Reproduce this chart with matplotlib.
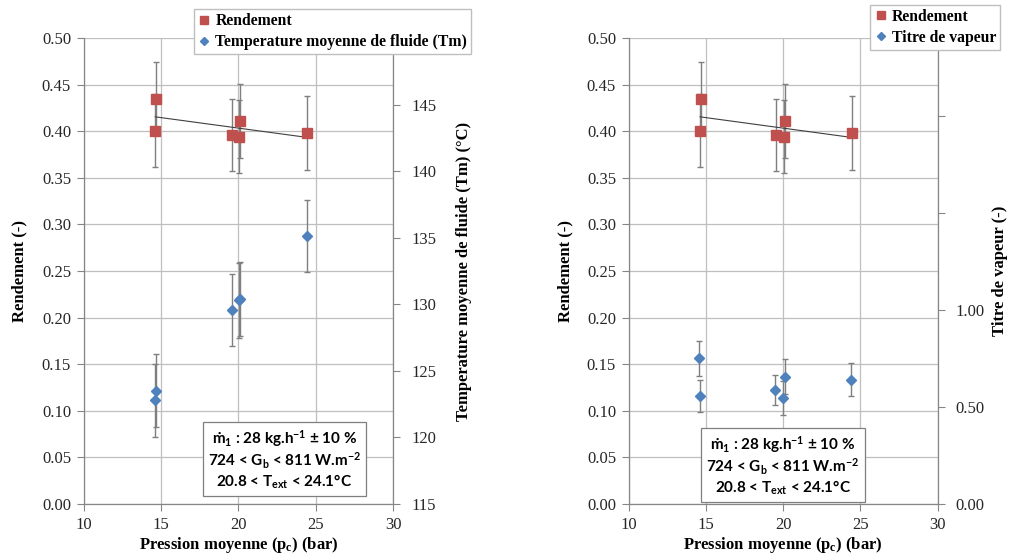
import numpy as np
import matplotlib
matplotlib.use("Agg")
import matplotlib.pyplot as plt
from matplotlib.lines import Line2D

plt.rcParams['font.family'] = ['Liberation Serif', 'DejaVu Serif']
plt.rcParams['mathtext.fontset'] = 'custom'
plt.rcParams['mathtext.rm'] = 'Liberation Serif:bold'
plt.rcParams['mathtext.bf'] = 'Liberation Serif:bold'
plt.rcParams['mathtext.sf'] = 'Lato:bold'
plt.rcParams['mathtext.it'] = 'Liberation Serif:bold'

# ---- data ----
pression = [14.68, 14.63, 19.56, 20.05, 20.10, 24.44]
rendement = [0.435, 0.4005, 0.396, 0.394, 0.411, 0.398]
rendement_err = [0.039, 0.039, 0.039, 0.039, 0.040, 0.040]

temperature = [123.5, 122.8, 129.6, 130.3, 130.4, 135.1]
temperature_err = [2.75, 2.75, 2.7, 2.8, 2.8, 2.7]

pression_v = [14.58, 14.63, 19.50, 20.03, 20.10, 24.40]
titre = [0.751, 0.557, 0.586, 0.545, 0.656, 0.639]
titre_err = [0.09, 0.083, 0.077, 0.088, 0.09, 0.085]

x_ticks = [10, 15, 20, 25, 30]
y_ticks = [0.0, 0.05, 0.10, 0.15, 0.20, 0.25, 0.30, 0.35, 0.40, 0.45, 0.50]
t_ticks = [115, 120, 125, 130, 135, 140, 145]
q_ticks = [0.0, 0.5, 1.0, 1.5, 2.0]
q_labels = ['0.00', '0.50', '1.00', '', '']

RED = '#C0504D'
BLUE = '#4F81BD'
GRID = '#BFBFBF'
AXC = '#868686'
ERRC = '#7F7F7F'
SERIF = 'Liberation Serif'

fig = plt.figure(figsize=(10.11, 5.56), dpi=100)

def setup_primary(ax):
    ax.set_xlim(10, 30)
    ax.set_ylim(0, 0.5)
    ax.set_xticks(x_ticks)
    ax.set_yticks(y_ticks)
    ax.set_yticklabels([f'{v:.2f}' for v in y_ticks])
    ax.grid(True, color=GRID, linewidth=0.9)
    ax.set_axisbelow(True)
    for s in ['top', 'right']:
        ax.spines[s].set_visible(False)
    for s in ['left', 'bottom']:
        ax.spines[s].set_color(AXC)
        ax.spines[s].set_linewidth(0.9)
    ax.tick_params(axis='both', direction='out', length=5, color=AXC,
                   labelsize=12, labelcolor='#262626', pad=4,
                   labelfontfamily=SERIF)
    ax.set_xlabel(r'Pression moyenne (p$_{c}$) (bar)', fontfamily=SERIF,
                  fontweight='bold', fontsize=12, labelpad=2)
    ax.set_ylabel('Rendement (-)', fontfamily=SERIF, fontweight='bold',
                  fontsize=12, labelpad=10)

def plot_rendement(ax):
    ax.errorbar(pression, rendement, yerr=rendement_err, fmt='none',
                ecolor=ERRC, elinewidth=1.0, capsize=2.5, capthick=1.0, zorder=3)
    coef = np.polyfit(pression, rendement, 1)
    xs = np.array([min(pression), max(pression)])
    ax.plot(xs, np.polyval(coef, xs), color='#404040', linewidth=0.8, zorder=4)
    ax.plot(pression, rendement, linestyle='none', marker='s', markersize=7,
            color=RED, markeredgecolor=RED, zorder=5)

def setup_secondary(ax2):
    for s in ['top', 'left', 'bottom']:
        ax2.spines[s].set_visible(False)
    ax2.spines['right'].set_color(AXC)
    ax2.spines['right'].set_linewidth(0.9)
    ax2.tick_params(axis='y', direction='out', length=5, color=AXC,
                    labelsize=12, labelcolor='#262626', pad=8,
                    labelfontfamily=SERIF)

def text_box(x, y):
    txt = ('ṁ$\\mathsf{_1}$ : 28 kg.h$\\mathsf{^{-1}}$ ± 10 %\n'
           '724 < G$\\mathsf{_b}$ < 811 W.m$\\mathsf{^{-2}}$\n'
           '20.8 < T$\\mathsf{_{ext}}$ < 24.1°C')
    fig.text(x, y, txt, ha='center', va='center', fontfamily='Lato',
             fontweight='bold', fontsize=11, linespacing=1.12,
             bbox=dict(boxstyle='square,pad=0.32', facecolor='white',
                       edgecolor='#7F7F7F', linewidth=0.9), zorder=10)

# ---- left chart ----
ax = fig.add_axes([0.0826, 0.0935, 0.3066, 0.8382])
setup_primary(ax)
ax2 = ax.twinx()
ax2.set_ylim(115, 150)
ax2.set_yticks(t_ticks)
ax2.set_yticklabels([str(v) for v in t_ticks])
setup_secondary(ax2)
ax2.set_ylabel('Temperature moyenne de fluide (Tm) (°C)', fontfamily=SERIF,
               fontweight='bold', fontsize=12, labelpad=14)
plot_rendement(ax)
ax2.errorbar(pression, temperature, yerr=temperature_err, fmt='none',
             ecolor=ERRC, elinewidth=1.0, capsize=2.5, capthick=1.0, zorder=3)
ax2.plot(pression, temperature, linestyle='none', marker='D', markersize=5.5,
         color=BLUE, markeredgecolor=BLUE, zorder=5)
ax2.set_xlim(10, 30)

handles1 = [Line2D([], [], linestyle='none', marker='s', markersize=6, color=RED),
            Line2D([], [], linestyle='none', marker='D', markersize=4, color=BLUE)]
fig.legend(handles1, ['Rendement', 'Temperature moyenne de fluide (Tm)'],
           loc='upper left', bbox_to_anchor=(0.192, 0.983),
           prop=dict(family=SERIF, weight='bold', size=11.3),
           frameon=True, fancybox=False, edgecolor='#BFBFBF', framealpha=1,
           handlelength=0.8, handletextpad=0.3, borderpad=0.25,
           labelspacing=0.3, borderaxespad=0)

text_box(0.2814, 0.1736)

# ---- right chart ----
bx = fig.add_axes([0.6217, 0.0935, 0.3056, 0.8382])
setup_primary(bx)
bx2 = bx.twinx()
bx2.set_ylim(0, 2.4)
bx2.set_yticks(q_ticks)
bx2.set_yticklabels(q_labels)
setup_secondary(bx2)
bx2.set_ylabel('Titre de vapeur (-)', fontfamily=SERIF, fontweight='bold',
               fontsize=12, labelpad=5)
plot_rendement(bx)
bx2.errorbar(pression_v, titre, yerr=titre_err, fmt='none',
             ecolor=ERRC, elinewidth=1.0, capsize=2.5, capthick=1.0, zorder=3)
bx2.plot(pression_v, titre, linestyle='none', marker='D', markersize=5.5,
         color=BLUE, markeredgecolor=BLUE, zorder=5)
bx2.set_xlim(10, 30)

fig.legend(handles1, ['Rendement', 'Titre de vapeur'],
           loc='upper left', bbox_to_anchor=(0.861, 0.991),
           prop=dict(family=SERIF, weight='bold', size=11.3),
           frameon=True, fancybox=False, edgecolor='#BFBFBF', framealpha=1,
           handlelength=0.8, handletextpad=0.3, borderpad=0.25,
           labelspacing=0.3, borderaxespad=0)

text_box(0.7745, 0.1628)

for a in (ax, ax2, bx, bx2):
    for lab in a.get_xticklabels() + a.get_yticklabels():
        lab.set_fontfamily(SERIF)
        lab.set_fontweight('normal')

fig.savefig('out.png', dpi=100)
